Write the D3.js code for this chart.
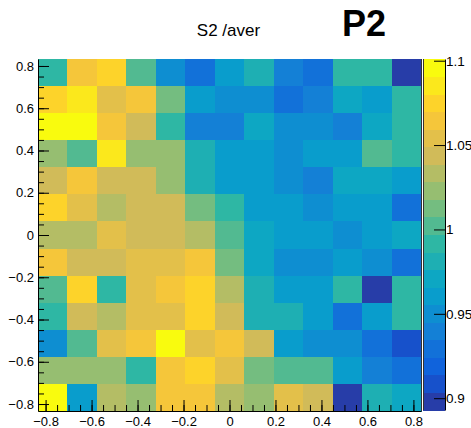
<!DOCTYPE html>
<html><head><meta charset="utf-8">
<script src="https://cdn.jsdelivr.net/npm/d3@7"></script>
<style>
body{margin:0;background:#fff}
svg{display:block}
text{font-family:"Liberation Sans",Arial,Helvetica,sans-serif}
</style>
</head><body>
<svg id="c" width="471" height="428"></svg>
<script>
// ---------------- data ----------------
const titleText = "S2 /aver";
const tagText = "P2";
const xRange = [-0.833, 0.833];
const yRange = [-0.833, 0.833];
const nBinsX = 13;
const nBinsY = 13;
const zRange = [0.893, 1.101];
const nContours = 20;
const xTicks = [-0.8, -0.6, -0.4, -0.2, 0, 0.2, 0.4, 0.6, 0.8];
const yTicks = [-0.8, -0.6, -0.4, -0.2, 0, 0.2, 0.4, 0.6, 0.8];
const zTicks = [0.9, 0.95, 1, 1.05, 1.1];
// cell values, rows listed from top (high y) to bottom (low y), columns left to right
const zRows = [
  [0.992,1.065,1.075,1.002,0.950,0.929,0.961,0.981,0.940,0.929,0.992,0.992,0.898],
  [1.075,1.085,1.054,1.065,1.013,0.961,0.950,0.950,0.929,0.940,0.971,0.961,0.992],
  [1.096,1.096,1.065,1.044,0.992,0.940,0.940,0.971,0.950,0.950,0.940,0.971,0.992],
  [1.023,1.002,1.085,1.023,1.023,0.981,0.961,0.961,0.950,0.961,0.961,1.002,0.992],
  [1.044,1.065,1.044,1.044,1.023,0.981,0.961,0.961,0.950,0.940,0.971,0.971,0.961],
  [1.075,1.054,1.033,1.044,1.044,1.013,0.992,0.961,0.961,0.950,0.961,0.961,0.929],
  [1.033,1.033,1.054,1.044,1.044,1.033,1.002,0.971,0.961,0.961,0.950,0.961,0.971],
  [1.065,1.044,1.044,1.054,1.054,1.065,1.013,0.971,0.950,0.950,0.961,0.950,0.929],
  [1.002,1.075,0.992,1.054,1.065,1.075,1.033,0.981,0.961,0.961,0.992,0.898,0.992],
  [0.992,1.044,1.033,1.054,1.054,1.075,1.044,0.981,0.981,0.961,0.929,0.961,0.992],
  [0.950,1.002,1.054,1.065,1.096,1.054,1.065,1.044,0.961,0.950,0.950,0.929,0.909],
  [1.023,1.023,1.023,0.992,1.065,1.075,1.054,1.013,1.002,1.002,0.961,0.940,0.929],
  [1.096,0.961,1.033,1.023,1.065,1.065,1.033,1.023,1.054,1.044,0.898,0.981,0.971]
];
// ROOT kBird palette definition
const birdStops = [0.0, 0.125, 0.25, 0.375, 0.5, 0.625, 0.75, 0.875, 1.0];
const birdR = [0.2082, 0.0592, 0.0780, 0.0232, 0.1802, 0.5301, 0.8186, 0.9956, 0.9764];
const birdG = [0.1664, 0.3599, 0.5041, 0.6419, 0.7178, 0.7492, 0.7328, 0.7862, 0.9832];
const birdB = [0.5293, 0.8684, 0.8385, 0.7914, 0.6425, 0.4662, 0.3499, 0.1968, 0.0539];

// ---------------- drawing ----------------
const svg = d3.select("#c");
const plot = {l: 38, r: 421, t: 59, b: 411};
const bar = {l: 423, r: 445};

const xs = d3.scaleLinear().domain(xRange).range([plot.l, plot.r]);
const ys = d3.scaleLinear().domain(yRange).range([plot.b, plot.t]);
const zs = d3.scaleLinear().domain(zRange).range([plot.b - 1, plot.t]);

const rS = d3.scaleLinear().domain(birdStops).range(birdR);
const gS = d3.scaleLinear().domain(birdStops).range(birdG);
const bS = d3.scaleLinear().domain(birdStops).range(birdB);
function bandColor(i) {
  const idx = Math.floor((i + 0.99) * 255 / nContours);
  const t = Math.min(1, idx / 254);
  return d3.rgb(rS(t) * 255, gS(t) * 255, bS(t) * 255).formatHex();
}
function bandOf(v) {
  const f = (v - zRange[0]) / (zRange[1] - zRange[0]);
  return Math.max(0, Math.min(nContours - 1, Math.floor(f * nContours)));
}

const bwX = (xRange[1] - xRange[0]) / nBinsX;
const bwY = (yRange[1] - yRange[0]) / nBinsY;
const cells = [];
zRows.forEach((row, r) => {
  const iy = nBinsY - 1 - r;
  row.forEach((v, j) => {
    cells.push({x0: xRange[0] + j * bwX, x1: xRange[0] + (j + 1) * bwX,
                y0: yRange[0] + iy * bwY, y1: yRange[0] + (iy + 1) * bwY, v});
  });
});

svg.append("g").attr("shape-rendering", "crispEdges")
  .selectAll("rect").data(cells).join("rect")
  .attr("x", d => xs(d.x0))
  .attr("y", d => ys(d.y1))
  .attr("width", d => xs(d.x1) - xs(d.x0) + 0.5)
  .attr("height", d => ys(d.y0) - ys(d.y1) + 0.5)
  .attr("fill", d => bandColor(bandOf(d.v)));

// right frame edge
svg.append("line").attr("x1", plot.r + 0.5).attr("x2", plot.r + 0.5)
  .attr("y1", plot.t).attr("y2", plot.b).attr("stroke", "#333").attr("stroke-width", 1);

const fmt = d => d === 0 ? "0" : d3.format(".1f")(d);
const minorX = d3.range(-16, 17).map(k => k * 0.05).filter(v => v >= xRange[0] && v <= xRange[1]);
const minorY = d3.range(-16, 17).map(k => k * 0.05).filter(v => v >= yRange[0] && v <= yRange[1]);

function styleAxis(g, size) {
  g.selectAll("path,line").attr("stroke", "#000").attr("stroke-width", 1);
  g.selectAll("text").attr("fill", "#000").style("font-size", size + "px")
    .style("font-family", '"Liberation Sans",Arial,Helvetica,sans-serif');
}

// x axis
const gxm = svg.append("g").attr("transform", `translate(0,${plot.b})`)
  .call(d3.axisBottom(xs).tickValues(minorX).tickSizeInner(-6).tickSizeOuter(0).tickFormat(""));
gxm.select(".domain").remove();
styleAxis(gxm, 13);
const gx = svg.append("g").attr("transform", `translate(0,${plot.b})`)
  .call(d3.axisBottom(xs).tickValues(xTicks).tickSizeInner(-11).tickSizeOuter(0).tickPadding(6).tickFormat(fmt));
styleAxis(gx, 13);

// y axis
const gym = svg.append("g").attr("transform", `translate(${plot.l},0)`)
  .call(d3.axisLeft(ys).tickValues(minorY).tickSizeInner(-6).tickSizeOuter(0).tickFormat(""));
gym.select(".domain").remove();
styleAxis(gym, 13);
const gy = svg.append("g").attr("transform", `translate(${plot.l},0)`)
  .call(d3.axisLeft(ys).tickValues(yTicks).tickSizeInner(-11).tickSizeOuter(0).tickPadding(4).tickFormat(fmt));
styleAxis(gy, 13);

// colour bar
const bands = d3.range(nContours).map(i => ({
  lo: zRange[0] + i * (zRange[1] - zRange[0]) / nContours,
  hi: zRange[0] + (i + 1) * (zRange[1] - zRange[0]) / nContours, i}));
svg.append("g").attr("shape-rendering", "crispEdges")
  .selectAll("rect").data(bands).join("rect")
  .attr("x", bar.l).attr("width", bar.r - bar.l)
  .attr("y", d => zs(d.hi)).attr("height", d => zs(d.lo) - zs(d.hi) + 0.5)
  .attr("fill", d => bandColor(d.i));
svg.append("line").attr("x1", bar.l + 0.5).attr("x2", bar.l + 0.5)
  .attr("y1", plot.t).attr("y2", plot.b - 1).attr("stroke", "#333");
const gz = svg.append("g").attr("transform", `translate(${bar.r},0)`)
  .call(d3.axisRight(zs).tickValues(zTicks).tickSizeInner(-11).tickSizeOuter(0).tickPadding(1).tickFormat(d => String(d)));
styleAxis(gz, 13.5);

// titles
svg.append("text").attr("x", 228.5).attr("y", 36).attr("text-anchor", "middle")
  .style("font-size", "17px").attr("fill", "#000").text(titleText);
svg.append("text").attr("x", 342).attr("y", 36)
  .style("font-size", "36px").style("font-weight", "bold").attr("fill", "#000").text(tagText);
</script>
</body></html>
